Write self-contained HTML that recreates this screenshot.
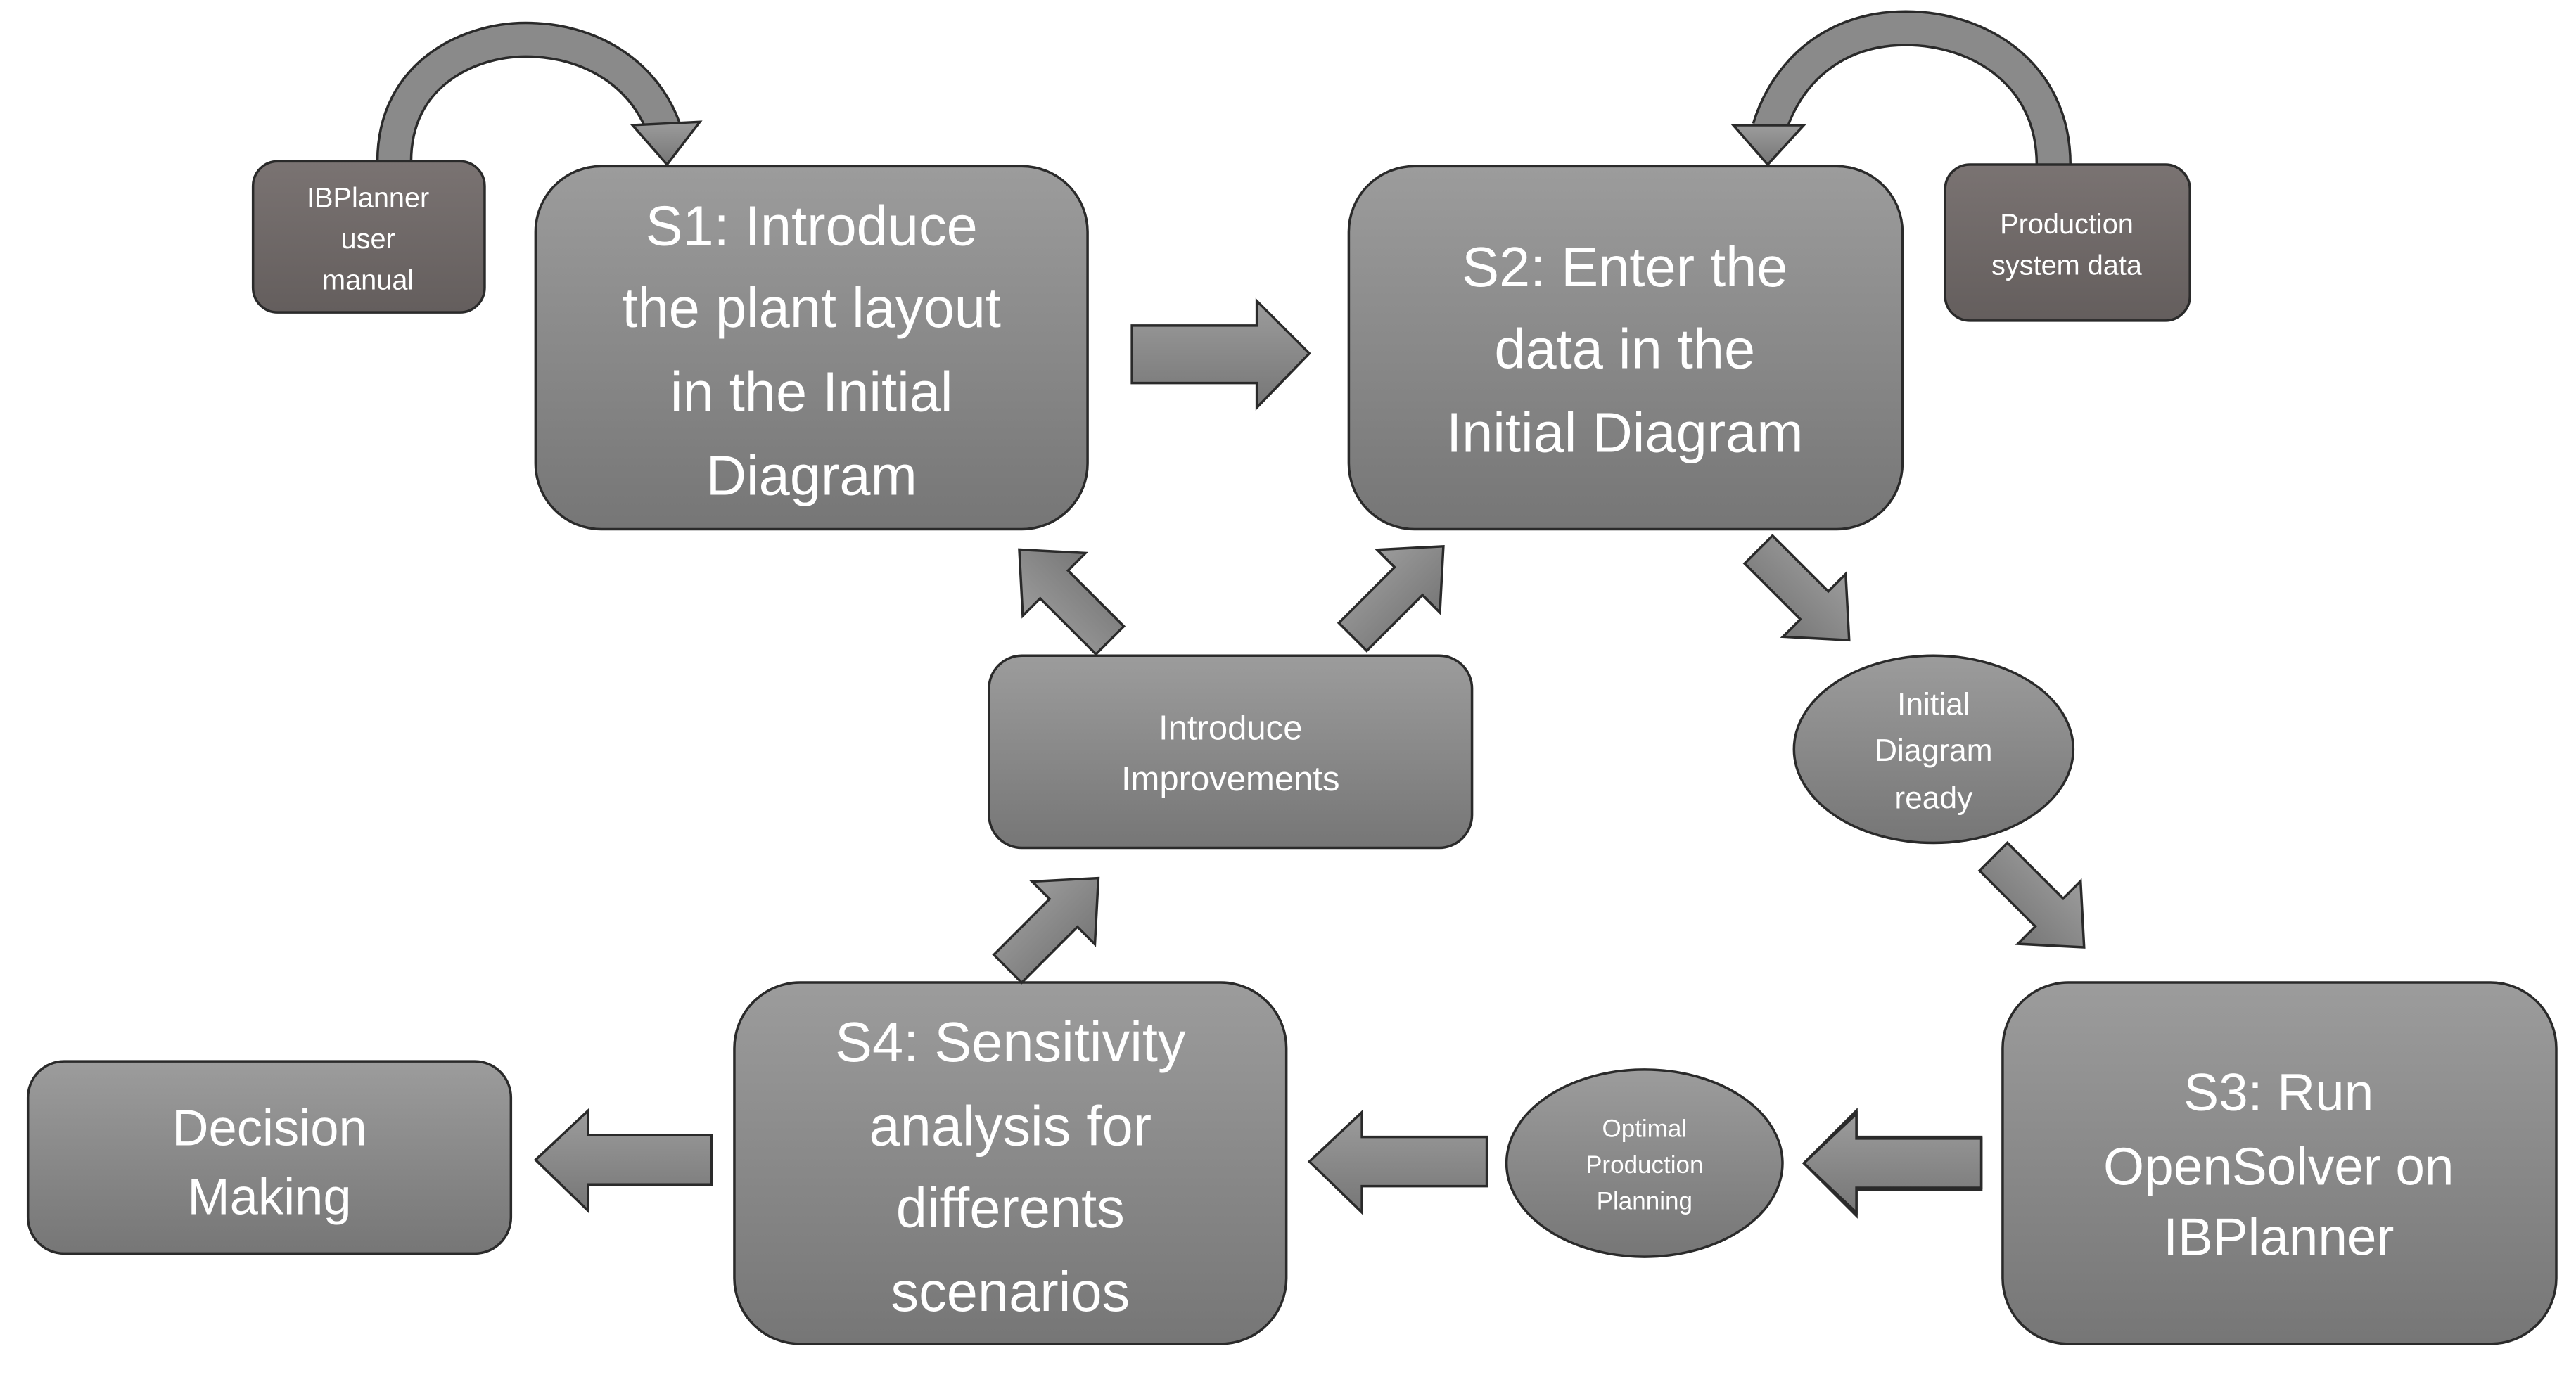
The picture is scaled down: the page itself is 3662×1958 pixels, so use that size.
<!DOCTYPE html>
<html><head><meta charset="utf-8"><style>
html,body{margin:0;padding:0;background:#fff;}
svg{display:block;}
text{font-family:"Liberation Sans",sans-serif;fill:#fff;text-anchor:middle;}
</style></head><body>
<svg width="3662" height="1958" viewBox="0 0 1568 838" xmlns="http://www.w3.org/2000/svg">
<defs>
<linearGradient id="g" x1="0" y1="0" x2="0" y2="1"><stop offset="0" stop-color="#9c9c9c"/><stop offset="1" stop-color="#767676"/></linearGradient>
<linearGradient id="d" x1="0" y1="0" x2="0" y2="1"><stop offset="0" stop-color="#7a7372"/><stop offset="1" stop-color="#645e5d"/></linearGradient>
<g id="ha"><path d="M0,-16 L-76,-16 L-76,-32 L-108,0 L-76,32 L-76,16 L0,16 Z"/></g>
<g id="da"><path d="M-39,-12 L9,-12 L9,-27 L39,0 L9,27 L9,12 L-39,12 Z"/></g>
</defs>
<g stroke="#2a2a2a" stroke-width="1.5" fill="url(#g)">
<!-- curved arrows -->
<path d="M240,98 C240,45 285,24 320,24 C360,24 392,45 404,78" fill="none" stroke="#2a2a2a" stroke-width="22"/>
<path d="M240,98 C240,45 285,24 320,24 C360,24 392,45 404,78" fill="none" stroke="#8a8a8a" stroke-width="19"/>
<path d="M385,76 L426,74 L406,100 Z"/>
<path d="M1250,100 C1250,45 1205,17 1160,17 C1115,17 1087,45 1077,78" fill="none" stroke="#2a2a2a" stroke-width="22"/>
<path d="M1250,100 C1250,45 1205,17 1160,17 C1115,17 1087,45 1077,78" fill="none" stroke="#8a8a8a" stroke-width="19"/>
<path d="M1055,76 L1098,76 L1076,100 Z"/>

<rect x="154" y="98" width="141" height="92" rx="15" fill="url(#d)"/>
<rect x="1184" y="100" width="149" height="95" rx="15" fill="url(#d)"/>
<rect x="326" y="101" width="336" height="221" rx="40"/>
<rect x="821" y="101" width="337" height="221" rx="40"/>
<rect x="1219" y="598" width="337" height="220" rx="40"/>
<rect x="447" y="598" width="336" height="220" rx="40"/>
<rect x="17" y="646" width="294" height="117" rx="22"/>
<rect x="602" y="399" width="294" height="117" rx="20"/>
<ellipse cx="1177" cy="456" rx="85" ry="57"/>
<ellipse cx="1001" cy="708" rx="84" ry="57"/>

<!-- horizontal arrows -->
<path d="M689,198 L765,198 L765,183 L797,215 L765,248 L765,233 L689,233 Z"/>
<use href="#ha" transform="translate(1206,708) scale(-1,1) scale(-1,1) rotate(0)"/>
<path d="M1206,693 L1130,693 L1130,678 L1098,708 L1130,738 L1130,723 L1206,723 Z"/>
<path d="M905,692 L829,692 L829,677 L797,707 L829,738 L829,722 L905,722 Z"/>
<path d="M433,691 L358,691 L358,676 L326,706 L358,737 L358,721 L433,721 Z"/>

<!-- diagonal arrows -->
<use href="#da" transform="translate(1098,362) rotate(45)"/>
<use href="#da" transform="translate(1241,549) rotate(45)"/>
<use href="#da" transform="translate(648,362) rotate(-135)"/>
<use href="#da" transform="translate(851,360) rotate(-45)"/>
<use href="#da" transform="translate(641,562) rotate(-45)"/>
</g>

<g stroke="none">
<text font-size="17" x="224" y="126">IBPlanner</text>
<text font-size="17" x="224" y="151">user</text>
<text font-size="17" x="224" y="176">manual</text>
<text font-size="17" x="1258" y="142">Production</text>
<text font-size="17" x="1258" y="167">system data</text>

<text font-size="34" x="494" y="149">S1: Introduce</text>
<text font-size="34" x="494" y="199">the plant layout</text>
<text font-size="34" x="494" y="250">in the Initial</text>
<text font-size="34" x="494" y="301">Diagram</text>

<text font-size="34" x="989" y="174">S2: Enter the</text>
<text font-size="34" x="989" y="224">data in the</text>
<text font-size="34" x="989" y="275">Initial Diagram</text>

<text font-size="19" x="1177" y="435">Initial</text>
<text font-size="19" x="1177" y="463">Diagram</text>
<text font-size="19" x="1177" y="492">ready</text>

<text font-size="32" x="1387" y="676">S3: Run</text>
<text font-size="32" x="1387" y="721">OpenSolver on</text>
<text font-size="32" x="1387" y="764">IBPlanner</text>

<text font-size="15" x="1001" y="692">Optimal</text>
<text font-size="15" x="1001" y="714">Production</text>
<text font-size="15" x="1001" y="736">Planning</text>

<text font-size="34" x="615" y="646">S4: Sensitivity</text>
<text font-size="34" x="615" y="697">analysis for</text>
<text font-size="34" x="615" y="747">differents</text>
<text font-size="34" x="615" y="798">scenarios</text>

<text font-size="31" x="164" y="697">Decision</text>
<text font-size="31" x="164" y="739">Making</text>

<text font-size="21" x="749" y="450">Introduce</text>
<text font-size="21" x="749" y="481">Improvements</text>
</g>
</svg>
</body></html>
